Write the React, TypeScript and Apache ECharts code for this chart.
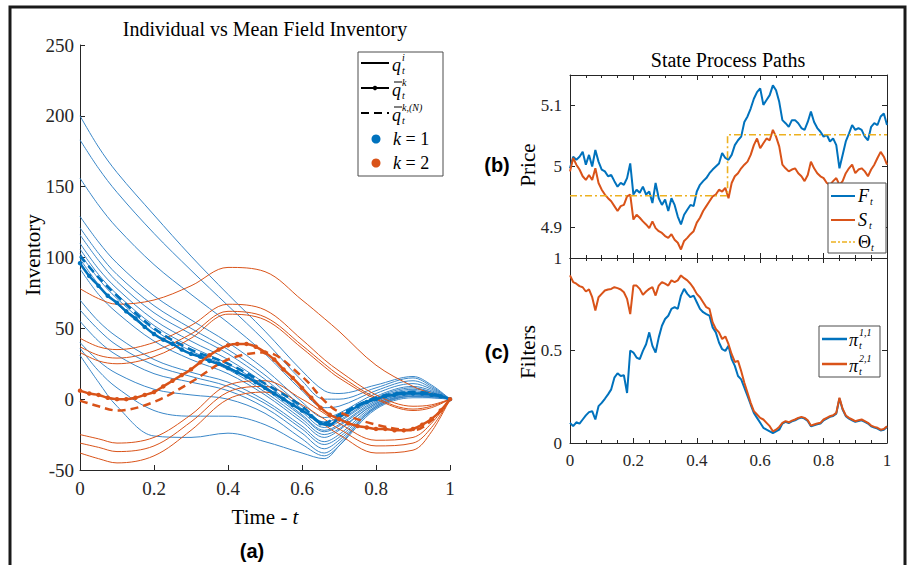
import React, { useEffect, useRef } from 'react';
import * as echarts from 'echarts';

// ---------- Left panel: inventory paths ----------
const T_INV = [0, 0.05, 0.1, 0.2, 0.3, 0.4, 0.5, 0.6, 0.66, 0.7, 0.8, 0.9, 0.95, 1];

const blueThin: number[][] = [
  [200, 178, 160, 130, 101, 74, 48, 20, 6, 4, 10, 16, 10, 0],
  [183, 163, 146, 117, 91, 66, 41, 13, 0, 0, 8, 15, 9, 0],
  [156, 137, 121, 95, 74, 54, 32, 6, -6, -5, 6, 13, 8, 0],
  [129, 111, 96, 73, 56, 40, 21, -2, -13, -10, 4, 11, 7, 0],
  [121, 103, 88, 66, 50, 35, 17, -5, -16, -13, 2, 9, 6, 0],
  [116, 98, 83, 61, 46, 32, 14, -7, -18, -15, 1, 8, 5, 0],
  [110, 92, 78, 56, 41, 28, 11, -9, -20, -16, 0, 7, 5, 0],
  [106, 88, 74, 52, 37, 25, 9, -11, -22, -18, -1, 6, 4, 0],
  [103, 85, 71, 49, 34, 23, 7, -12, -23, -19, -2, 5, 4, 0],
  [99, 81, 67, 46, 32, 21, 5, -14, -25, -21, -3, 4, 3, 0],
  [92, 74, 61, 41, 28, 18, 3, -16, -27, -22, -3, 4, 3, 0],
  [70, 55, 44, 28, 19, 12, -1, -19, -30, -25, -4, 3, 2, 0],
  [63, 49, 38, 24, 16, 9, -3, -21, -32, -27, -5, 3, 2, 0],
  [55, 41, 31, 18, 12, 6, -6, -24, -35, -29, -6, 2, 2, 0],
  [40, 27, 18, 7, 3, 0, -10, -28, -38, -31, -6, 2, 2, 0],
  [36, 20, 8, -8, -12, -12, -18, -32, -40, -33, -7, 1, 1, 0],
  [31, 12, -5, -26, -27, -24, -30, -38, -42, -33, -5, 2, 1, 0],
];

const redThin: number[][] = [
  [78, 71, 67, 70, 80, 93, 90, 70, 57, 48, 24, 9, 4, 0],
  [43, 37, 35, 40, 52, 67, 63, 42, 28, 20, 3, -5, -4, 0],
  [37, 31, 29, 34, 46, 62, 58, 38, 25, 17, 1, -7, -5, 0],
  [33, 27, 25, 30, 43, 60, 56, 36, 23, 15, 0, -8, -6, 0],
  [-25, -28, -31, -27, -11, 10, 13, 0, -10, -17, -29, -27, -17, 0],
  [-31, -34, -37, -33, -16, 5, 9, -4, -14, -21, -33, -31, -20, 0],
  [-38, -42, -45, -40, -22, 0, 5, -8, -18, -25, -38, -36, -23, 0],
];

// dashed mean-field (finite population) paths, on T_INV
const blueMeanN = [101, 86, 73, 50, 35, 25, 11, -5, -17, -11, 1, 5, 4, 0];
const redMeanN = [-1, -5, -8, -2, 12, 28, 33, 16, -1, -9, -18, -22, -15, 0];

// solid mean-field paths with markers, on T_MEAN (every 0.025)
const T_MEAN = [
  0, 0.025, 0.05, 0.075, 0.1, 0.125, 0.15, 0.175, 0.2, 0.225, 0.25, 0.275, 0.3, 0.325,
  0.35, 0.375, 0.4, 0.425, 0.45, 0.475, 0.5, 0.525, 0.55, 0.575, 0.6, 0.625, 0.65,
  0.675, 0.7, 0.725, 0.75, 0.775, 0.8, 0.825, 0.85, 0.875, 0.9, 0.925, 0.95, 0.975, 1,
];
const blueMean = [
  96, 87, 80, 73, 68, 62, 57, 51, 46, 42, 39, 35, 32, 30, 27, 25, 22, 19, 16, 12, 8,
  4, 0, -4, -8, -12, -17, -18, -13, -9, -5, -2, 0, 2, 3, 4, 4, 4, 3, 2, 0,
];
const redMean = [
  6, 4, 3, 1, 0, 0, 1, 3, 5, 9, 13, 17, 21, 26, 31, 35, 38, 39, 39, 37, 33,
  28, 21, 15, 8, 1, -6, -11, -14, -17, -19, -20, -21, -21, -22, -22, -21, -18, -14, -8, 0,
];

const INV_X_TICKS = [0, 0.2, 0.4, 0.6, 0.8, 1];

// ---------- Right panels: state process & filters ----------
const T_PATH = Array.from({ length: 101 }, (_, i) => i / 100);

const priceF = [
  4.997, 5.016, 5.011, 5.016, 5.024, 5.003, 5.019, 5.0, 5.027, 5.008,
  4.995, 4.992, 4.984, 4.986, 4.976, 4.967, 4.973, 4.97, 4.981, 5.005,
  4.954, 4.962, 4.957, 4.967, 4.954, 4.959, 4.94, 4.973, 4.948, 4.937,
  4.946, 4.927, 4.948, 4.937, 4.918, 4.905, 4.921, 4.929, 4.937, 4.935,
  4.959, 4.97, 4.976, 4.981, 4.989, 4.995, 5.0, 5.005, 5.022, 5.014,
  5.011, 5.019, 5.035, 5.043, 5.049, 5.073, 5.082, 5.095, 5.111, 5.122,
  5.128, 5.101, 5.109, 5.117, 5.133, 5.125, 5.106, 5.076, 5.071, 5.065,
  5.076, 5.076, 5.071, 5.063, 5.06, 5.073, 5.09, 5.073, 5.063, 5.057,
  5.049, 5.052, 5.041, 5.046, 5.035, 4.997, 5.019, 5.041, 5.054, 5.068,
  5.06, 5.063, 5.06, 5.049, 5.043, 5.065, 5.071, 5.068, 5.082, 5.087, 5.068,
];

const priceS = [
  4.992, 5.014, 5.003, 4.995, 4.984, 4.978, 4.986, 4.978, 4.997, 4.973,
  4.962, 4.954, 4.948, 4.943, 4.935, 4.927, 4.935, 4.937, 4.951, 4.954,
  4.913, 4.921, 4.916, 4.91, 4.905, 4.899, 4.91, 4.899, 4.894, 4.891,
  4.886, 4.883, 4.889, 4.88, 4.875, 4.864, 4.878, 4.883, 4.889, 4.894,
  4.908, 4.916, 4.927, 4.935, 4.943, 4.951, 4.954, 4.962, 4.959, 4.965,
  4.948, 4.973, 4.984, 4.989, 4.997, 5.003, 5.008, 5.019, 5.035, 5.046,
  5.03, 5.038, 5.046, 5.043, 5.06, 5.049, 5.033, 5.003, 4.997, 4.992,
  4.995, 4.997, 4.989, 4.984, 4.976, 4.986, 5.008, 4.997, 4.989, 4.984,
  4.981, 4.973, 4.97, 4.976, 4.981, 4.97, 4.976, 4.989, 4.997, 5.003,
  4.989, 4.995, 4.997, 4.992, 4.984, 4.995, 5.003, 5.014, 5.024, 5.016, 5.003,
];

const thetaT = [0, 0.497, 0.497, 1];
const thetaV = [4.952, 4.952, 5.052, 5.052];

const filter11 = [
  0.109, 0.091, 0.112, 0.105, 0.127, 0.149, 0.167, 0.172, 0.127, 0.199,
  0.217, 0.239, 0.263, 0.29, 0.353, 0.377, 0.362, 0.366, 0.27, 0.5,
  0.489, 0.462, 0.453, 0.498, 0.534, 0.598, 0.525, 0.489, 0.571, 0.634,
  0.67, 0.688, 0.725, 0.734, 0.725, 0.797, 0.833, 0.806, 0.788, 0.797,
  0.761, 0.725, 0.707, 0.697, 0.688, 0.625, 0.598, 0.543, 0.507, 0.498,
  0.525, 0.453, 0.417, 0.362, 0.344, 0.299, 0.254, 0.208, 0.163, 0.136,
  0.109, 0.082, 0.072, 0.063, 0.054, 0.063, 0.072, 0.105, 0.114, 0.108,
  0.117, 0.123, 0.132, 0.137, 0.132, 0.119, 0.09, 0.096, 0.101, 0.105,
  0.123, 0.132, 0.141, 0.146, 0.159, 0.241, 0.181, 0.145, 0.132, 0.123,
  0.114, 0.119, 0.123, 0.114, 0.105, 0.09, 0.083, 0.078, 0.068, 0.072, 0.087,
];

const filter21 = [
  0.906, 0.87, 0.861, 0.848, 0.842, 0.819, 0.83, 0.788, 0.716, 0.788,
  0.806, 0.824, 0.83, 0.833, 0.842, 0.837, 0.83, 0.815, 0.779, 0.697,
  0.851, 0.851, 0.833, 0.801, 0.819, 0.833, 0.842, 0.797, 0.851, 0.87,
  0.861, 0.851, 0.879, 0.87, 0.879, 0.906, 0.891, 0.879, 0.861, 0.837,
  0.806, 0.788, 0.761, 0.734, 0.725, 0.652, 0.616, 0.598, 0.562, 0.576,
  0.534, 0.48, 0.438, 0.444, 0.389, 0.326, 0.272, 0.217, 0.172, 0.154,
  0.136, 0.127, 0.109, 0.091, 0.063, 0.072, 0.087, 0.109, 0.118, 0.112,
  0.121, 0.127, 0.136, 0.141, 0.136, 0.123, 0.094, 0.1, 0.105, 0.109,
  0.127, 0.136, 0.145, 0.15, 0.163, 0.245, 0.185, 0.149, 0.136, 0.127,
  0.118, 0.123, 0.127, 0.118, 0.109, 0.094, 0.087, 0.082, 0.072, 0.076, 0.091,
];

const PRICE_TICKS = [4.9, 5, 5.1];

// ---------- styling ----------
const C_BLUE = '#0072BD';
const C_RED = '#D95319';
const C_ORANGE = '#EDB120';
const C_BLUE_THIN = '#3a87c8';
const AX = '#262626';
const SERIF = 'Liberation Serif';
const SANS = 'Liberation Sans';

const zip = (xs: number[], ys: number[]) => xs.map((x, i) => [x, ys[i]]);
const fmtNum = (v: number) => String(Number(v.toFixed(2)));

function txt(x: number, y: number, text: string, o: any = {}) {
  return {
    type: 'text',
    x,
    y,
    z: 100,
    rotation: o.rotation || 0,
    style: {
      text,
      fill: o.fill || AX,
      fontFamily: o.fontFamily || SERIF,
      fontSize: o.fontSize || 18,
      fontStyle: o.fontStyle || 'normal',
      fontWeight: o.fontWeight || 'normal',
      align: o.align || 'left',
      verticalAlign: o.verticalAlign || 'middle',
      rich: o.rich,
    },
  };
}

function mathSym(x: number, y: number, base: string, italic: boolean, bw: number, sup?: string, sub?: string, bar?: boolean, small = 10) {
  const els: any[] = [txt(x, y, base, { fontSize: 18, fontStyle: italic ? 'italic' : 'normal', fill: '#000' })];
  if (bar) {
    els.push({ type: 'line', z: 100, shape: { x1: x + 2, y1: y - 8, x2: x + 10, y2: y - 8 }, style: { stroke: '#000', lineWidth: 1 } });
  }
  if (sup) els.push(txt(x + bw, y - 8, sup, { fontSize: small, fontStyle: 'italic', fill: '#000' }));
  if (sub) els.push(txt(x + bw, y + 5, sub, { fontSize: small, fontStyle: 'italic', fill: '#000' }));
  return els;
}

function legLine(x1: number, x2: number, y: number, color: string, width: number, dash?: number[]) {
  return { type: 'line', z: 100, shape: { x1, y1: y, x2, y2: y }, style: { stroke: color, lineWidth: width, lineDash: dash } };
}

function legBox(x: number, y: number, w: number, h: number) {
  return { type: 'rect', z: 99, shape: { x, y, width: w, height: h }, style: { fill: '#fff', stroke: '#4d4d4d', lineWidth: 1 } };
}

function xAxisCfg(grid: number, showLabel: boolean, top: boolean, minor: boolean, fontSize: number) {
  return {
    gridIndex: grid,
    type: 'value',
    position: top ? 'top' : 'bottom',
    min: 0,
    max: 1,
    interval: 0.2,
    axisLine: { show: true, onZero: false, lineStyle: { color: AX, width: 1 } },
    axisTick: { show: true, inside: true, length: 5, lineStyle: { color: AX } },
    minorTick: { show: minor, splitNumber: 4, length: 3, lineStyle: { color: AX } },
    axisLabel: { show: showLabel, color: AX, fontFamily: SERIF, fontSize, margin: 9, formatter: fmtNum },
    splitLine: { show: false },
    minorSplitLine: { show: false },
  };
}

export default function App() {
  const ref = useRef<HTMLDivElement>(null);
  useEffect(() => {
    if (!ref.current) return;
    const chart = echarts.init(ref.current, undefined, { renderer: 'svg' });

    const series: any[] = [];
    blueThin.forEach((v) =>
      series.push({ type: 'line', xAxisIndex: 0, yAxisIndex: 0, data: zip(T_INV, v), smooth: 0.35, symbol: 'none', silent: true, lineStyle: { color: C_BLUE_THIN, width: 1 } })
    );
    redThin.forEach((v) =>
      series.push({ type: 'line', xAxisIndex: 0, yAxisIndex: 0, data: zip(T_INV, v), smooth: 0.35, symbol: 'none', silent: true, lineStyle: { color: C_RED, width: 1 } })
    );
    const dashedMean = (v: number[], color: string) => ({
      type: 'line', xAxisIndex: 0, yAxisIndex: 0, data: zip(T_INV, v), smooth: 0.35, silent: true,
      symbol: 'none', lineStyle: { color, width: 2.5, type: [8, 5] },
    });
    const solidMean = (v: number[], color: string) => ({
      type: 'line', xAxisIndex: 0, yAxisIndex: 0, data: zip(T_MEAN, v), smooth: 0.3, silent: true,
      symbol: 'circle', symbolSize: 4.5, showSymbol: true, showAllSymbol: true,
      itemStyle: { color }, lineStyle: { color, width: 2.5 },
    });
    series.push(dashedMean(blueMeanN, C_BLUE));
    series.push(solidMean(blueMean, C_BLUE));
    series.push(dashedMean(redMeanN, C_RED));
    series.push(solidMean(redMean, C_RED));

    series.push({ type: 'line', xAxisIndex: 1, yAxisIndex: 1, data: zip(T_PATH, priceF), symbol: 'none', silent: true, lineStyle: { color: C_BLUE, width: 2 } });
    series.push({ type: 'line', xAxisIndex: 1, yAxisIndex: 1, data: zip(T_PATH, priceS), symbol: 'none', silent: true, lineStyle: { color: C_RED, width: 2 } });
    series.push({ type: 'line', xAxisIndex: 1, yAxisIndex: 1, data: zip(thetaT, thetaV), symbol: 'none', silent: true, lineStyle: { color: C_ORANGE, width: 1.6, type: [7, 3, 2, 3] } });

    series.push({ type: 'line', xAxisIndex: 3, yAxisIndex: 3, data: zip(T_PATH, filter11), symbol: 'none', silent: true, lineStyle: { color: C_BLUE, width: 2 } });
    series.push({ type: 'line', xAxisIndex: 3, yAxisIndex: 3, data: zip(T_PATH, filter21), symbol: 'none', silent: true, lineStyle: { color: C_RED, width: 2 } });

    const italicRich = { i: { fontStyle: 'italic', fontSize: 18, fontFamily: SERIF, fill: '#000' } };

    const graphic: any[] = [
      { type: 'rect', z: 100, shape: { x: 10, y: 7, width: 895, height: 600 }, style: { fill: 'none', stroke: '#1a1a1a', lineWidth: 3 } },
      txt(265, 29, 'Individual vs Mean Field Inventory', { fontSize: 20, align: 'center', fill: '#000' }),
      txt(728, 60, 'State Process Paths', { fontSize: 20, align: 'center', fill: '#000' }),
      txt(33, 255, 'Inventory', { fontSize: 21, align: 'center', rotation: Math.PI / 2, fill: '#000' }),
      txt(528, 165, 'Price', { fontSize: 21, align: 'center', rotation: Math.PI / 2, fill: '#000' }),
      txt(528, 352, 'Filters', { fontSize: 21, align: 'center', rotation: Math.PI / 2, fill: '#000' }),
      txt(265, 517, '{n|Time - }{i|t}', { fontSize: 21, align: 'center', fill: '#000', rich: { n: { fontSize: 21, fontFamily: SERIF, fill: '#000' }, i: { fontSize: 21, fontFamily: SERIF, fontStyle: 'italic', fill: '#000' } } }),
      txt(252, 551, '(a)', { fontSize: 20, fontFamily: SANS, fontWeight: 'bold', align: 'center', fill: '#000' }),
      txt(497, 165, '(b)', { fontSize: 20, fontFamily: SANS, fontWeight: 'bold', align: 'center', fill: '#000' }),
      txt(497, 352, '(c)', { fontSize: 20, fontFamily: SANS, fontWeight: 'bold', align: 'center', fill: '#000' }),

      // left legend
      legBox(358, 52, 85, 124),
      legLine(361, 389, 63, '#000', 2),
      ...mathSym(392, 65, 'q', true, 10, 'i', 't'),
      legLine(361, 389, 88, '#000', 2),
      { type: 'circle', z: 100, shape: { cx: 375, cy: 88, r: 2.2 }, style: { fill: '#000' } },
      ...mathSym(392, 90, 'q', true, 10, 'k', 't', true),
      legLine(361, 389, 113, '#000', 2, [8, 5]),
      ...mathSym(392, 115, 'q', true, 10, 'k,(N)', 't', true),
      { type: 'circle', z: 100, shape: { cx: 376, cy: 139, r: 4.5 }, style: { fill: C_BLUE } },
      txt(393, 139, '{i|k} = 1', { fontSize: 18, fill: '#000', rich: italicRich }),
      { type: 'circle', z: 100, shape: { cx: 376, cy: 163, r: 4.5 }, style: { fill: C_RED } },
      txt(393, 163, '{i|k} = 2', { fontSize: 18, fill: '#000', rich: italicRich }),

      // top-right legend
      legBox(828, 183, 58, 70),
      legLine(831, 855, 196, C_BLUE, 2),
      ...mathSym(858, 196, 'F', true, 12, undefined, 't'),
      legLine(831, 855, 220, C_RED, 2),
      ...mathSym(858, 220, 'S', true, 11, undefined, 't'),
      legLine(831, 855, 242, C_ORANGE, 1.6, [5, 2, 2, 2]),
      ...mathSym(858, 242, 'Θ', false, 13, undefined, 't'),

      // bottom-right legend
      legBox(819, 326, 61, 51),
      legLine(822, 847, 339, C_BLUE, 2.5),
      ...mathSym(849, 340, 'π', true, 10, '1,1', 't'),
      legLine(822, 847, 364, C_RED, 2.5),
      ...mathSym(849, 366, 'π', true, 10, '2,1', 't'),
    ];

    chart.setOption({
      animation: false,
      backgroundColor: '#fff',
      textStyle: { fontFamily: SERIF },
      grid: [
        { left: 80, top: 45, width: 370, height: 425 },
        { left: 570, top: 75, width: 317, height: 183 },
        { left: 570, top: 258, width: 317, height: 185 },
      ],
      xAxis: [
        { ...xAxisCfg(0, true, false, false, 19), axisLabel: { show: true, color: AX, fontFamily: SERIF, fontSize: 19, margin: 9, customValues: INV_X_TICKS, formatter: fmtNum } },
        xAxisCfg(1, false, false, true, 17),
        xAxisCfg(1, false, true, true, 17),
        xAxisCfg(2, true, false, true, 17),
        xAxisCfg(2, false, true, true, 17),
      ],
      yAxis: [
        {
          gridIndex: 0, type: 'value', min: -50, max: 250, interval: 50,
          axisLine: { show: true, onZero: false, lineStyle: { color: AX } },
          axisTick: { show: true, inside: true, length: 5, lineStyle: { color: AX } },
          axisLabel: { color: AX, fontFamily: SERIF, fontSize: 19, margin: 6 },
          splitLine: { show: false },
        },
        {
          gridIndex: 1, type: 'value', min: 4.85, max: 5.15,
          axisLine: { show: true, onZero: false, lineStyle: { color: AX } },
          axisTick: { show: true, inside: true, length: 5, customValues: PRICE_TICKS, lineStyle: { color: AX } },
          axisLabel: { color: AX, fontFamily: SERIF, fontSize: 17, margin: 8, customValues: PRICE_TICKS, formatter: fmtNum },
          splitLine: { show: false },
        },
        {
          gridIndex: 1, type: 'value', position: 'right', min: 4.85, max: 5.15,
          axisLine: { show: true, onZero: false, lineStyle: { color: AX } },
          axisTick: { show: true, inside: true, length: 5, customValues: PRICE_TICKS, lineStyle: { color: AX } },
          axisLabel: { show: false },
          splitLine: { show: false },
        },
        {
          gridIndex: 2, type: 'value', min: 0, max: 1, interval: 0.5,
          axisLine: { show: true, onZero: false, lineStyle: { color: AX } },
          axisTick: { show: true, inside: true, length: 5, lineStyle: { color: AX } },
          axisLabel: { color: AX, fontFamily: SERIF, fontSize: 17, margin: 8, formatter: fmtNum },
          splitLine: { show: false },
        },
        {
          gridIndex: 2, type: 'value', position: 'right', min: 0, max: 1, interval: 0.5,
          axisLine: { show: true, onZero: false, lineStyle: { color: AX } },
          axisTick: { show: true, inside: true, length: 5, lineStyle: { color: AX } },
          axisLabel: { show: false },
          splitLine: { show: false },
        },
      ],
      series,
      graphic,
    });

    return () => chart.dispose();
  }, []);

  return <div ref={ref} style={{ position: 'absolute', left: 0, top: 0, width: 918, height: 565, background: '#fff' }} />;
}
